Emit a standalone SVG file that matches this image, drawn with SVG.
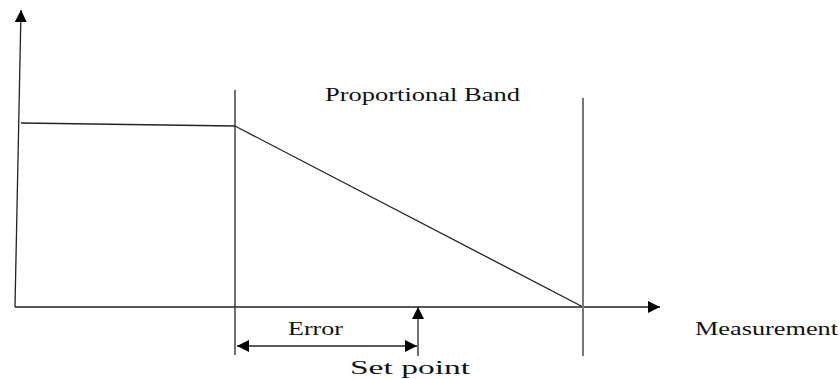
<svg xmlns="http://www.w3.org/2000/svg" width="840" height="379" viewBox="0 0 840 379">
<style>
.ln{stroke:#222;stroke-width:1.3;fill:none}
.gr{stroke:#777;stroke-width:2;fill:none}
.t{font-family:"Liberation Serif","Times New Roman",serif;font-size:18px;fill:#111}
</style>
<defs>
<marker id="ah" viewBox="0 0 10 10" refX="10" refY="5" markerWidth="12" markerHeight="12" markerUnits="userSpaceOnUse" orient="auto-start-reverse">
<path d="M0,0 L10,5 L0,10 z" fill="#000"/>
</marker>
</defs>
<rect width="840" height="379" fill="#fff"/>
<g id="connectors">
<line class="ln" x1="15" y1="307" x2="21" y2="10" marker-end="url(#ah)"/>
<line class="ln" x1="15" y1="307" x2="660" y2="307" stroke="#666" marker-end="url(#ah)"/>
<line class="ln" x1="21" y1="123" x2="235" y2="126"/>
<line class="ln" x1="235" y1="90" x2="235" y2="355"/>
<line class="ln" x1="235" y1="126" x2="583" y2="307" stroke-width="1"/>
<line class="gr" x1="583" y1="98" x2="583" y2="356"/>
<line class="ln" x1="237" y1="346" x2="417" y2="346" marker-start="url(#ah)" marker-end="url(#ah)"/>
<line class="ln" x1="418" y1="356" x2="418" y2="307" marker-end="url(#ah)"/>
</g>
<g id="labels">
<text class="t" font-family="Liberation Serif, serif" x="325" y="101" textLength="195" lengthAdjust="spacingAndGlyphs">Proportional Band</text>
<text class="t" font-family="Liberation Serif, serif" x="288" y="335" textLength="55" lengthAdjust="spacingAndGlyphs">Error</text>
<text class="t" font-family="Liberation Serif, serif" x="350" y="374" textLength="120" lengthAdjust="spacingAndGlyphs">Set point</text>
<text class="t" font-family="Liberation Serif, serif" x="695" y="335" textLength="143" lengthAdjust="spacingAndGlyphs">Measurement</text>
</g>
</svg>
